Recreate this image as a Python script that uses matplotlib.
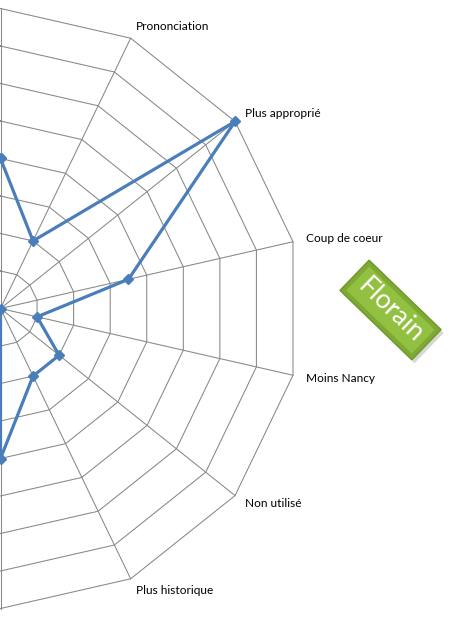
import numpy as np
import matplotlib
matplotlib.use('Agg')
import matplotlib.pyplot as plt
from matplotlib.patches import Rectangle

# 14 axes, radar drawn clockwise from the top; the left half is cut off in the original
categories = ['', 'Prononciation', 'Plus approprié', 'Coup de coeur', 'Moins Nancy',
              'Non utilisé', 'Plus historique', '', '', '', '', '', '', '']
values = [4, 2, 8, 3.5, 1, 2, 2, 4, 0, 3, 2, 5, 3, 4]
rmax = 8
badge_text = 'Florain'

W, H = 456, 620
px = 37.5            # pixels per unit (300 px for rmax)
cx, cy = 0.5, 308.5  # centre of the web, in pixels from top-left

fig = plt.figure(figsize=(W / 100, H / 100), dpi=100)
ax = fig.add_axes([0, 0, 1, 1])
ax.set_xlim(-cx / px, (W - cx) / px)
ax.set_ylim(-(H - cy) / px, cy / px)
ax.axis('off')

n = len(categories)
ang = np.deg2rad(90 - np.arange(n) * 360 / n)
ang_c = np.append(ang, ang[0])

gridc = '#878787'
# rings
for r in range(1, rmax + 1):
    ax.plot(r * np.cos(ang_c), r * np.sin(ang_c), color=gridc, lw=0.75, zorder=1)
# spokes
for a in ang:
    ax.plot([0, rmax * np.cos(a)], [0, rmax * np.sin(a)], color=gridc, lw=0.75, zorder=1)

# series
v = np.append(values, values[0])
ax.plot(v * np.cos(ang_c), v * np.sin(ang_c), color='#4A7EBB', lw=2.3,
        marker='D', markersize=5, zorder=3)

# category labels
for a, lab in zip(ang, categories):
    if not lab:
        continue
    r = rmax + 0.35
    ax.text(r * np.cos(a), r * np.sin(a), lab, ha='left', va='center',
            fontsize=8.6, family='Lato', color='#000000')

# green badge (shadow, body, inner bevel)
bx, by = 390 / px, (cy - 310) / px
bw, bh = 100 / px, 42 / px
ax.add_patch(Rectangle((bx - bw / 2 + 0.07, by - bh / 2 - 0.09), bw, bh, angle=-44,
                       rotation_point='center', facecolor='#b0b0b0', edgecolor='none',
                       alpha=0.5, zorder=4))
ax.add_patch(Rectangle((bx - bw / 2, by - bh / 2), bw, bh, angle=-44,
                       rotation_point='center', facecolor='#7FA834', edgecolor='#6E9A2A',
                       lw=1.0, zorder=5))
ins = 0.12
ax.add_patch(Rectangle((bx - bw / 2 + ins, by - bh / 2 + ins), bw - 2 * ins, bh - 2 * ins,
                       angle=-44, rotation_point='center', facecolor='#92C040',
                       edgecolor='none', zorder=5))
ax.text(bx, by, badge_text, rotation=-44, ha='center', va='center', rotation_mode='anchor',
        fontsize=19, family='Lato', color='white', zorder=6)

fig.savefig('out.png', dpi=100)
